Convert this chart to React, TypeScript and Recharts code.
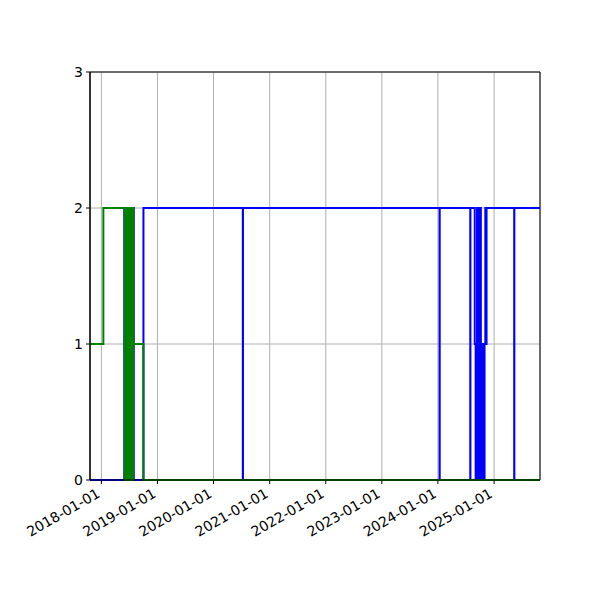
import { LineChart, Line, XAxis, YAxis, CartesianGrid, ReferenceArea } from 'recharts';

// x range and ticks
const xStart = '2017-10-19';
const xEnd = '2025-10-27';
const yearTicks = [
  '2018-01-01', '2019-01-01', '2020-01-01', '2021-01-01',
  '2022-01-01', '2023-01-01', '2024-01-01', '2025-01-01',
];
const yTicks = [0, 1, 2, 3];

// blue series (step-post)
const blueDates = [
  '2017-10-19', '2018-05-30', '2018-06-15', '2018-06-16', '2018-07-31', '2018-10-02',
  '2020-07-10', '2020-07-11', '2024-01-12', '2024-01-13', '2024-07-30', '2024-07-31',
  '2024-08-28', '2024-09-03', '2024-09-12', '2024-09-18', '2024-09-24', '2024-10-01',
  '2024-10-07', '2024-10-12', '2024-10-20', '2024-10-26', '2024-10-31', '2024-11-05',
  '2024-11-08', '2024-11-13', '2025-05-12', '2025-05-13', '2025-10-27',
];
const blueValues = [
  0, 2, 0, 2, 0, 2,
  0, 2, 0, 2, 0, 2,
  1, 0, 2, 1, 0, 2,
  1, 0, 1, 0, 1, 2,
  1, 2, 0, 2, 2,
];

// green series (step-post)
const greenDates = [
  '2017-10-19', '2018-01-14', '2018-06-02', '2018-06-08', '2018-06-11', '2018-06-20',
  '2018-06-26', '2018-07-02', '2018-07-08', '2018-07-14', '2018-07-20', '2018-07-26',
  '2018-07-29', '2018-10-02', '2025-10-27',
];
const greenValues = [1, 2, 0, 2, 0, 2, 0, 2, 0, 2, 0, 2, 1, 0, 0];

const toTime = (d: string) => Date.parse(d);
const blueData = blueDates.map((d, i) => ({ t: toTime(d), v: blueValues[i] }));
const greenData = greenDates.map((d, i) => ({ t: toTime(d), v: greenValues[i] }));

const font = 'DejaVu Sans, sans-serif';

function DateTick({ x, y, payload }: any) {
  const label = new Date(payload.value).toISOString().slice(0, 10);
  return (
    <g transform={`translate(${x - 3},${y + 5})`}>
      <text
        textAnchor="end"
        dominantBaseline="central"
        transform="rotate(-30)"
        fontFamily={font}
        fontSize={14}
        fill="#000"
      >
        {label}
      </text>
    </g>
  );
}

export default function App() {
  return (
    <div style={{ position: 'absolute', left: 0, top: 0, width: 600, height: 600, background: '#fff' }}>
      <LineChart width={600} height={600} margin={{ top: 72, right: 60, bottom: 0, left: 0 }}>
        <CartesianGrid stroke="#b0b0b0" strokeWidth={1} />
        <XAxis
          dataKey="t"
          type="number"
          scale="time"
          domain={[toTime(xStart), toTime(xEnd)]}
          allowDataOverflow
          ticks={yearTicks.map(toTime)}
          interval={0}
          tick={<DateTick />}
          tickSize={4}
          tickMargin={3}
          height={120}
          axisLine={{ stroke: '#000' }}
          tickLine={{ stroke: '#000' }}
        />
        <YAxis
          type="number"
          domain={[0, 3]}
          ticks={yTicks}
          interval={0}
          width={90}
          tickSize={4}
          tickMargin={3}
          axisLine={{ stroke: '#000' }}
          tickLine={{ stroke: '#000' }}
          tick={{ fill: '#000', fontFamily: font, fontSize: 14 }}
        />
        <Line
          data={blueData}
          dataKey="v"
          type="stepAfter"
          stroke="#0000ff"
          strokeWidth={2}
          dot={false}
          isAnimationActive={false}
        />
        <Line
          data={greenData}
          dataKey="v"
          type="stepAfter"
          stroke="#008000"
          strokeWidth={2}
          dot={false}
          isAnimationActive={false}
        />
        <ReferenceArea
          x1={toTime(xStart)}
          x2={toTime(xEnd)}
          y1={0}
          y2={3}
          fill="none"
          stroke="#000"
          strokeWidth={1}
          ifOverflow="visible"
        />
      </LineChart>
    </div>
  );
}
